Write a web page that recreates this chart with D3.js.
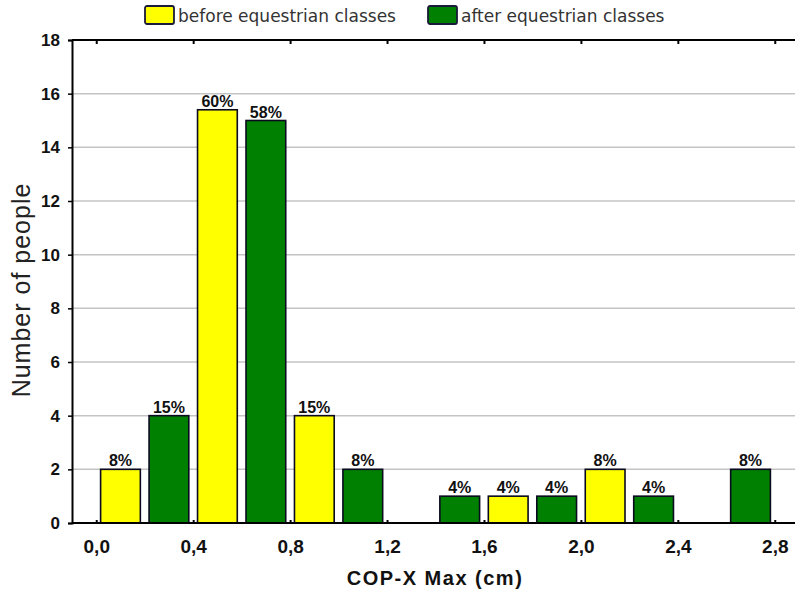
<!DOCTYPE html>
<html><head><meta charset="utf-8">
<script src="https://cdn.jsdelivr.net/npm/d3@7"></script>
<style>body{margin:0;background:#fff}svg{display:block}</style>
</head><body>
<script>
const binCenters = [0.1, 0.3, 0.5, 0.7, 0.9, 1.1, 1.5, 1.7, 1.9, 2.1, 2.3, 2.7];
const binSeries  = ["before","after","before","after","before","after","after","before","after","before","after","after"];
const binValues  = [2, 4, 15.4, 15, 4, 2, 1, 1, 1, 2, 1, 2];
const binLabels  = ["8%","15%","60%","58%","15%","8%","4%","4%","4%","8%","4%","8%"];
const xTicks = [0, 0.4, 0.8, 1.2, 1.6, 2.0, 2.4, 2.8];
const yTicks = [0, 2, 4, 6, 8, 10, 12, 14, 16, 18];
const seriesNames = ["before","after"];
const seriesLabels = ["before equestrian classes","after equestrian classes"];
const seriesColors = ["#ffff00","#008000"];

const W = 795, H = 591;
const FONT = "Arial, 'Liberation Sans', sans-serif";
const svg = d3.select("body").append("svg").attr("width", W).attr("height", H);
const x = d3.scaleLinear().domain([-0.1, 2.9]).range([72, 799]);
const y = d3.scaleLinear().domain([0, 18]).range([523, 40]);
const color = d3.scaleOrdinal().domain(seriesNames).range(seriesColors);
const bw = (x(0.2) - x(0)) * 0.82;

// gridlines
svg.append("g").selectAll("line").data(yTicks.filter(d => d > 0 && d < 18)).join("line")
  .attr("x1", 72).attr("x2", W).attr("y1", d => y(d)).attr("y2", d => y(d))
  .attr("stroke", "#c4c4c4").attr("stroke-width", 1.5);

// bars
svg.append("g").selectAll("rect").data(binCenters).join("rect")
  .attr("x", (d) => x(d) - bw / 2)
  .attr("y", (d, i) => y(binValues[i]))
  .attr("width", bw)
  .attr("height", (d, i) => y(0) - y(binValues[i]))
  .attr("fill", (d, i) => color(binSeries[i]))
  .attr("stroke", "#0a0a20").attr("stroke-width", 1.6);

// bar labels
svg.append("g").selectAll("text").data(binCenters).join("text")
  .attr("x", d => x(d))
  .attr("y", (d, i) => y(binValues[i]) - 3)
  .attr("text-anchor", "middle")
  .attr("font-family", FONT)
  .attr("font-weight", "bold").attr("font-size", 16).attr("fill", "#111")
  .text((d, i) => binLabels[i]);

// y axis
const yAxis = svg.append("g").attr("transform", "translate(72,0)")
  .call(d3.axisLeft(y).tickValues(yTicks).tickSize(4).tickPadding(8).tickFormat(d3.format("d")));
yAxis.select(".domain").attr("stroke", "#000").attr("stroke-width", 2);
yAxis.selectAll(".tick line").attr("stroke", "#000").attr("stroke-width", 1.5);
yAxis.selectAll("text").attr("font-family", FONT)
  .attr("font-size", 17).attr("font-weight", "bold").attr("fill", "#111");

// x axis
const fmt = d => d3.format(".1f")(d).replace(".", ",");
const xAxis = svg.append("g").attr("transform", "translate(0,523)")
  .call(d3.axisBottom(x).tickValues(xTicks).tickSize(3).tickPadding(14).tickFormat(fmt));
xAxis.select(".domain").attr("d", `M72,0H${W}`).attr("stroke", "#000").attr("stroke-width", 2);
xAxis.selectAll(".tick line").attr("stroke", "#000").attr("stroke-width", 2).attr("y1", -3).attr("y2", 0);
xAxis.selectAll("text").attr("font-family", FONT)
  .attr("font-size", 19).attr("font-weight", "bold").attr("fill", "#111");

// top border with ticks
const xTop = svg.append("g").attr("transform", "translate(0,40)")
  .call(d3.axisTop(x).tickValues(xTicks).tickSize(-4).tickFormat(""));
xTop.select(".domain").attr("d", `M72,0H${W}`).attr("stroke", "#000").attr("stroke-width", 2);
xTop.selectAll(".tick line").attr("stroke", "#000").attr("stroke-width", 2);

// axis titles
svg.append("text").attr("x", 435).attr("y", 585).attr("text-anchor", "middle")
  .attr("font-family", FONT).attr("font-weight", "bold")
  .attr("font-size", 20).attr("letter-spacing", 1.5).attr("fill", "#111").text("COP-X Max (cm)");
svg.append("text").attr("transform", "translate(30,290) rotate(-90)").attr("text-anchor", "middle")
  .attr("font-family", FONT)
  .attr("font-size", 25).attr("letter-spacing", 1).attr("fill", "#222").text("Number of people");

// legend
const legX = [145, 428];
const leg = svg.append("g").selectAll("g").data(seriesNames).join("g")
  .attr("transform", (d, i) => `translate(${legX[i]},6)`);
leg.append("rect").attr("width", 29).attr("height", 18).attr("rx", 2)
  .attr("fill", d => color(d)).attr("stroke", "#1a1a3a").attr("stroke-width", 1.8);
leg.append("text").attr("x", 33).attr("y", 16)
  .attr("font-family", "'DejaVu Sans', Verdana, sans-serif").attr("font-size", 17).attr("fill", "#333")
  .text((d, i) => seriesLabels[i]);
</script>
</body></html>
